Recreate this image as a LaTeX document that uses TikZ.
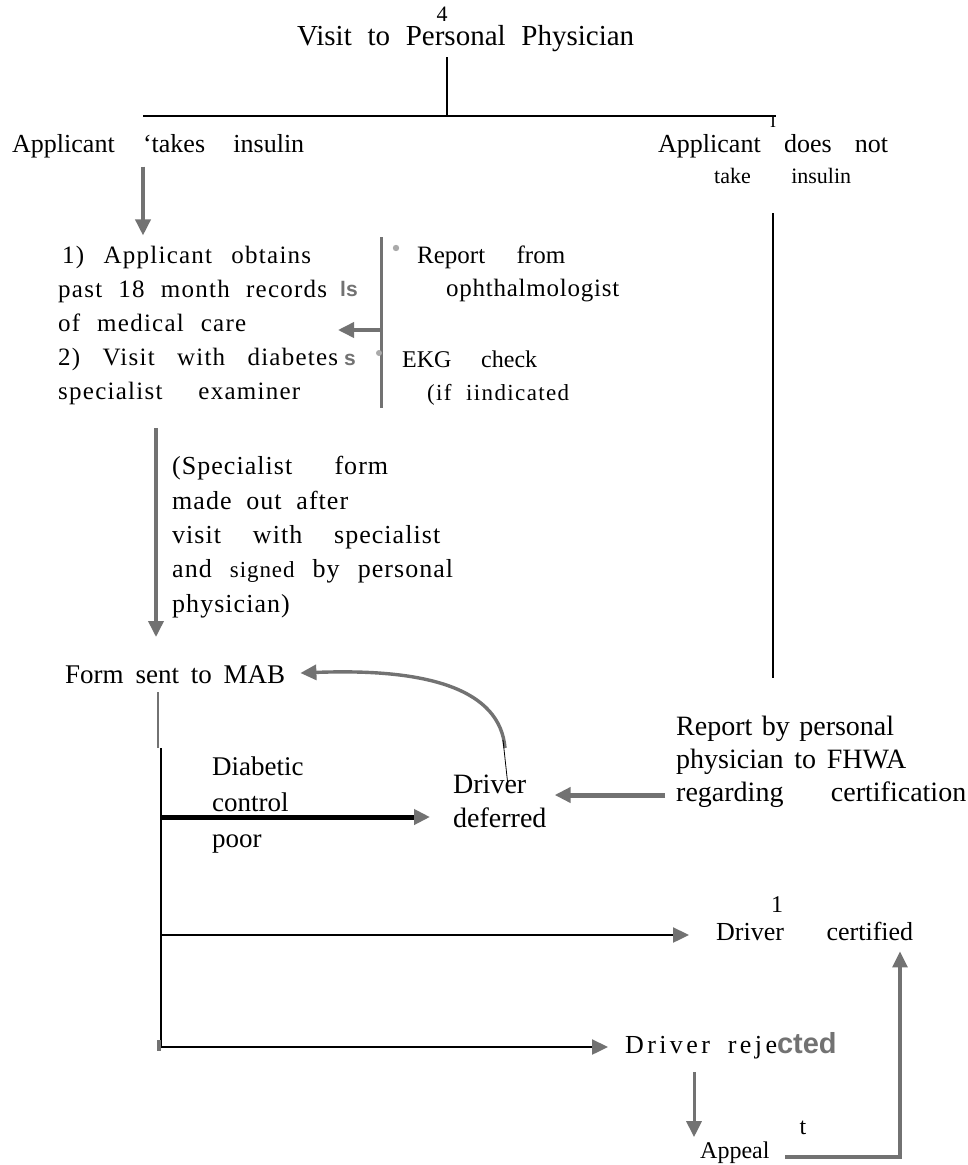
\documentclass[tikz,border=0pt]{standalone}
\usepackage{fontspec}
\setmainfont{Liberation Serif}
\setsansfont{Liberation Sans}
\usetikzlibrary{arrows.meta}
\definecolor{scan}{HTML}{727272}
\newcommand{\spreadline}[2]{\makebox[#1][s]{#2}}
\tikzset{
  lbl/.style={inner sep=0pt, anchor=base west, align=left, font=\fontsize{26}{34}\selectfont},
  blk/.style={draw=black, line width=2.4pt},
  grayline/.style={draw=scan, line width=3pt},
  grayarr/.style={draw=scan, line width=3.6pt, -{Triangle[length=16pt,width=15pt]}},
  blkarr/.style={draw=black, line width=2.4pt, -{Triangle[length=16pt,width=15pt,color=scan]}},
  smudge/.style={inner sep=0pt, anchor=base west, text=scan, font=\fontsize{21}{24}\sffamily\bfseries},
}
\begin{document}
\begin{tikzpicture}[x=1pt,y=-1pt]
\useasboundingbox[fill=white] (0,0) rectangle (968,1165);
% top of the tree
\node[lbl,anchor=center,font=\fontsize{22}{24}\selectfont] (four) at (442,14) {4};
\node[lbl,font=\fontsize{29}{34}\selectfont] (visit) at (297,45) {\spreadline{337pt}{Visit to Personal Physician}};
\coordinate (jt) at (447,116);
\coordinate (jl) at (143,116);
\coordinate (jr) at (776,116);
\draw[blk] (jt |- 0,57) -- (jt);
\draw[blk, line width=2pt] (jl) -- (jr);
\node[lbl,anchor=center,font=\fontsize{18}{20}\selectfont] (tick) at (773,122) {I};
\node[lbl] (insulin) at (12,152) {\spreadline{292pt}{Applicant ‘takes insulin}};
% multi-line nodes: base anchor sits on the last line
\node[lbl,font=\fontsize{26}{31}\selectfont] (noinsulin) at (658,183) {\spreadline{230pt}{Applicant does not}\\\hspace*{56pt}\spreadline{137pt}{\fontsize{22}{31}\selectfont take insulin}};
% left branch
\node[lbl,font=\fontsize{25}{34}\selectfont\addfontfeature{LetterSpace=5}] (records) at (58,399) {\hspace*{4pt}\spreadline{249pt}{1) Applicant obtains}\\\spreadline{269pt}{past 18 month records}\\\spreadline{188pt}{of medical care}\\\spreadline{280pt}{2) Visit with diabetes}\\\spreadline{242pt}{specialist examiner}};
\node[smudge] (smudge1) at (340,296) {ls};
\node[smudge] (smudge2) at (344,365) {s};
\draw[grayarr] ([yshift=-9pt]insulin.south -| jl) -- ([yshift=10pt]records.north -| jl);
\coordinate (bartop) at (381,237);
\coordinate (barbot) at (381,408);
\coordinate (barmid) at (381,330);
\coordinate (recin) at (338,330);
\draw[grayline] (bartop) -- (barbot);
\draw[grayarr] (barmid) -- (recin);
\fill[scan!60] (396,248) circle (3.2pt);
\fill[scan!60] (379,353) circle (3pt);
\node[lbl,font=\fontsize{25}{33}\selectfont] (ophth) at (417,296) {\spreadline{148pt}{Report from}\\\hspace*{29pt}{\addfontfeature{LetterSpace=3}ophthalmologist}};
\node[lbl,font=\fontsize{24}{33}\selectfont] (ekg) at (402,400) {\spreadline{135pt}{EKG check}\\\hspace*{25pt}\spreadline{142pt}{\fontsize{23}{33}\selectfont\addfontfeature{LetterSpace=6}(if iindicated}};
\node[lbl,font=\fontsize{26}{34.3}\selectfont\addfontfeature{LetterSpace=4}] (specform) at (172,612) {\spreadline{216pt}{(Specialist form}\\\spreadline{176pt}{made out after}\\\spreadline{268pt}{visit with specialist}\\\spreadline{281pt}{and {\fontsize{23}{34}\selectfont signed} by personal}\\physician)};
\coordinate (spectop) at (156,428);
\coordinate (specbot) at (156,637);
\draw[grayarr] (spectop) -- (specbot);
% form to MAB and its outcomes
\node[lbl,font=\fontsize{27}{34}\selectfont] (mab) at (65,683) {\spreadline{220pt}{Form sent to MAB}};
\coordinate (mtop) at (158,692);
\coordinate (mmid) at (158,748);
\coordinate (mc) at (161,817);
\coordinate (md) at (161,935);
\coordinate (mbot) at (161,1047);
\draw[grayline, line width=2.6pt] (mtop) -- (mmid);
\draw[blk] (mmid -| mc) -- (mbot);
\node[lbl,font=\fontsize{27}{36}\selectfont] (control) at (212,847) {Diabetic\\control\\poor};
\node[lbl,font=\fontsize{28}{34}\selectfont] (deferred) at (453,827) {Driver\\deferred};
\draw[blkarr, line width=5pt] (mc) -- ([xshift=-23pt]mc -| deferred.west);
\node[lbl,font=\fontsize{28}{33}\selectfont] (fhwa) at (676,801) {\spreadline{218pt}{Report by personal}\\\spreadline{230pt}{physician to FHWA}\\\spreadline{290pt}{regarding certification}};
\draw[grayarr, line width=5pt] ([xshift=-11pt]fhwa.west |- 0,795) -- ([xshift=8pt]deferred.east |- 0,795);
\coordinate (curvefoot) at (505,748);
\draw[grayarr, line width=3.4pt] (curvefoot) .. controls (500,690) and (430,668) .. ([xshift=15pt]mab.east |- 0,673);
\draw[line width=0.8pt] (503,740) -- (508,786);
\coordinate (rtop) at (773,213);
\coordinate (rbot) at (773,678);
\draw[blk] (rtop) -- (rbot);
\node[lbl,anchor=center,font=\fontsize{24}{26}\selectfont] (one) at (777,905) {1};
\node[lbl] (certified) at (716,940) {\spreadline{197pt}{Driver certified}};
\draw[blkarr] (md) -- ([xshift=-27pt]md -| certified.west);
\node[lbl] (rejected) at (625,1053) {{\addfontfeature{LetterSpace=13}Driver}\hspace*{18pt}{\addfontfeature{LetterSpace=13}reje}{\fontsize{29}{30}\sffamily\bfseries\color{scan}cted}};
\draw[blkarr] (mbot) -- ([xshift=-17pt]mbot -| rejected.west);
\fill[scan] (157,1040) rectangle (161,1051);
\node[lbl,anchor=center,font=\fontsize{24}{26}\selectfont] (tmark) at (803,1128) {t};
\node[lbl,font=\fontsize{24}{26}\selectfont] (appeal) at (700,1158) {\spreadline{72pt}{Appeal}};
\coordinate (rejdown) at (694,1072);
\draw[grayarr, line width=3pt] (rejdown) -- ([yshift=4pt]rejdown |- appeal.north);
\coordinate (aback) at (900,1157);
\draw[grayarr, line width=3.2pt] ([xshift=13pt]appeal.east |- aback) -- (aback) -- ([yshift=-11pt]aback |- certified.south);
\end{tikzpicture}
\end{document}
